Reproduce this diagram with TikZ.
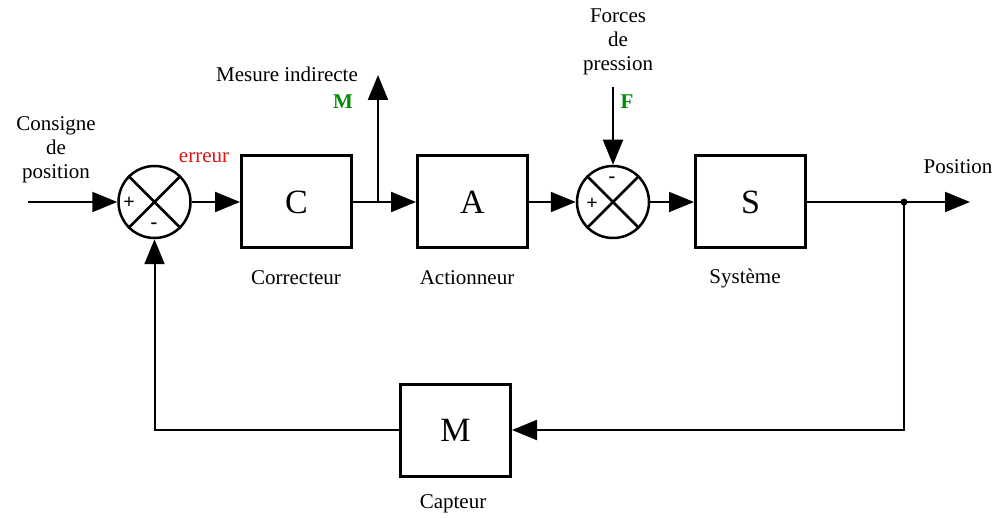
\documentclass[tikz,border=0pt]{standalone}
\usepackage{fontspec}
\setmainfont{Liberation Serif}
\usetikzlibrary{arrows.meta}
\definecolor{errred}{RGB}{220,20,20}
\definecolor{mgreen}{RGB}{0,140,0}
\begin{document}
\begin{tikzpicture}[x=1pt,y=-1pt,
  blk/.style={draw,line width=3pt,minimum width=110pt,minimum height=92pt,inner sep=0pt,font=\fontsize{34}{34}\selectfont},
  sumnode/.style={draw,circle,line width=2.5pt,minimum size=72pt,inner sep=0pt},
  lbl/.style={font=\fontsize{21}{24}\selectfont,inner sep=0pt,align=center},
  sgn/.style={font=\fontsize{20}{20}\selectfont\bfseries,inner sep=0pt},
  gl/.style={font=\fontsize{21}{21}\selectfont\bfseries,text=mgreen,inner sep=0pt},
  conn/.style={line width=2pt,-{Triangle[length=25pt,width=20pt]}},
  wire/.style={line width=2pt}]
\useasboundingbox (0,0) rectangle (1001,518);
% blocks
\node[blk] (C) at (296.5,202) {C};
\node[blk] (A) at (472.5,202) {A};
\node[blk] (S) at (750.5,202) {S};
\node[blk] (M) at (455.5,430) {M};
% summing junctions
\node[sumnode] (s1) at (154.5,202) {};
\node[sumnode] (s2) at (613,202) {};
\draw[line width=2.5pt] (s1.45) -- (s1.225) (s1.135) -- (s1.315);
\draw[line width=2.5pt] (s2.45) -- (s2.225) (s2.135) -- (s2.315);
\node[sgn] (p1) at (129,203) {+};
\node[sgn] (m1) at (154,226) {-};
\node[sgn] (p2) at (592,204) {+};
\node[sgn] (m2) at (612,180) {-};
% coordinates
\coordinate (in) at (28,202);
\coordinate (br) at (378,202);
\coordinate (mtip) at (378,75);
\coordinate (ftop) at (613,87);
\coordinate (dot) at (904,202);
\coordinate (out) at (970,202);
% connectors
\draw[conn] (in) -- (s1.west);
\draw[conn] (s1.east) -- (C.west);
\draw[conn] (C.east) -- (A.west);
\draw[conn] (br) -- (mtip);
\draw[conn] (A.east) -- (s2.west);
\draw[conn] (ftop) -- (s2.north);
\draw[conn] (s2.east) -- (S.west);
\draw[conn] (S.east) -- (out);
\draw[conn] (dot) |- (M.east);
\draw[conn] (M.west) -| (s1.south);
\fill (dot) circle (3.5pt);
% labels
\node[lbl] (tcons) at (56,150) {Consigne\\de\\position};
\node[lbl,text=errred] (terr) at (204,158) {erreur};
\node[lbl] (tmes) at (287,74) {Mesure indirecte};
\node[gl] (gM) at (343,102) {M};
\node[lbl] (tforce) at (618,42) {Forces\\de\\pression};
\node[gl] (gF) at (627,102) {F};
\node[lbl] (tpos) at (958,167) {Position};
\node[lbl] (tcor) at (296,278) {Correcteur};
\node[lbl] (tact) at (467,278) {Actionneur};
\node[lbl] (tsys) at (745,278) {Système};
\node[lbl] (tcap) at (453,504) {Capteur};
\end{tikzpicture}
\end{document}
